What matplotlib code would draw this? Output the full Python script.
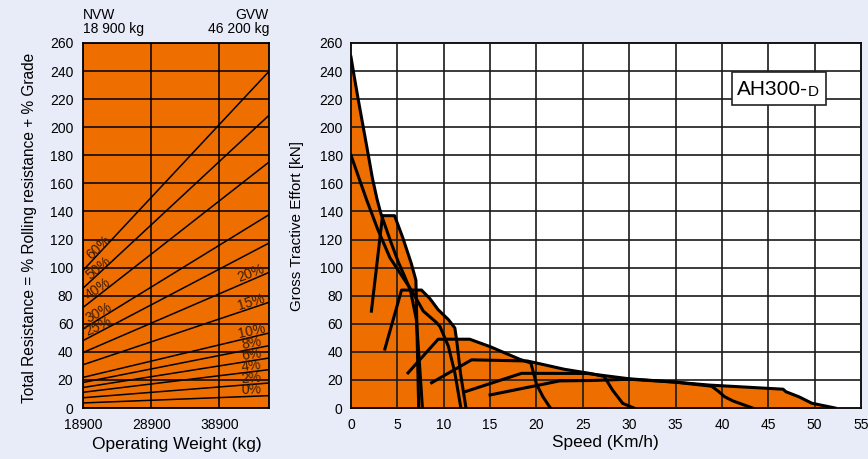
import matplotlib
matplotlib.use("Agg")
import matplotlib.pyplot as plt
from matplotlib.patches import Rectangle
import numpy as np

plt.rcParams["font.family"] = ["Liberation Sans", "DejaVu Sans"]

ORANGE = "#ee6e00"
BG = "#e8ecf8"

# --- left panel: total resistance lines (value at NVW, value at GVW) ---
weight_ends = [18900, 46200]
grade_labels = ["0%", "2%", "4%", "6%", "8%", "10%", "15%", "20%", "25%", "30%", "40%", "50%", "60%"]
resist_nvw = [3.6, 7.3, 11.2, 14.6, 18.2, 21.8, 30.8, 39.5, 48.0, 56.3, 71.6, 85.3, 98.0]
resist_gvw = [8.8, 17.8, 27.3, 35.6, 44.4, 53.4, 75.3, 96.6, 117.5, 137.7, 175.2, 208.5, 239.8]
# labels near the left end for steep grades, near the right end for the rest
label_at_left = ["25%", "30%", "40%", "50%", "60%"]

weight_ticks = [18900, 28900, 38900]
resist_ticks = list(range(0, 261, 20))

# --- right panel: rimpull curves (speed km/h, force kN) ---
speed_a = [0, 0.3, 0.8, 1.35, 1.9, 2.3, 2.8, 3.2, 4.2, 5.1, 5.7, 6.4, 7.05, 7.4, 7.7]
force_a = [250, 238, 219, 199, 179, 164, 149, 139, 120, 104, 95, 84, 63, 30, 0]

speed_b = [0, 0.9, 1.7, 2.9, 4.2, 5.6, 6.5, 7.8, 9.2, 9.6, 10.5, 11.2, 11.85]
force_b = [180, 163, 148, 127, 107, 93, 84, 69, 61, 58, 44, 25, 0]

speed_g1 = [2.2, 3.4, 4.7, 5.6, 6.5, 7.0, 7.1, 7.3]
force_g1 = [69, 137, 137, 121, 103, 91, 60, 0]

speed_g2 = [3.65, 5.45, 7.6, 8.5, 9.4, 10.5, 11.2, 11.4, 11.8, 12.4]
force_g2 = [42, 84, 84, 78, 70, 63, 57, 48, 25, 0]

speed_g3 = [6.15, 9.4, 12.8, 15.0, 18.2, 19.4, 20.0, 20.7, 21.5]
force_g3 = [25, 49, 49, 43.7, 34.7, 32, 17, 8, 0]

speed_g4 = [8.7, 13.0, 19.0, 20.5, 23.0, 25.7, 27.3, 28.2, 29.3, 30.5]
force_g4 = [18, 34.3, 33.5, 31.3, 27.6, 24.7, 22.5, 12.8, 3.3, 0]

speed_g5 = [12.3, 18.4, 25.5, 30.0, 35.0, 38.9, 39.6, 40.3, 41.2, 43.3]
force_g5 = [11.6, 24.7, 24.6, 20.8, 18.4, 15.5, 12, 8, 5, 0]

speed_g6 = [15.0, 22.5, 26.0, 30.0, 35.0, 38.7, 46.6, 46.9, 48.3, 49.7, 52.2]
force_g6 = [9.3, 19.3, 19.6, 20.5, 18.4, 16.3, 13.4, 11.6, 8.0, 3.4, 0]

curves = [
    (speed_a, force_a), (speed_b, force_b), (speed_g1, force_g1), (speed_g2, force_g2),
    (speed_g3, force_g3), (speed_g4, force_g4), (speed_g5, force_g5), (speed_g6, force_g6),
]

speed_ticks = list(range(0, 56, 5))
force_ticks = list(range(0, 261, 20))

W, H = 868, 459
fig = plt.figure(figsize=(W / 100, H / 100), dpi=100)
fig.patch.set_facecolor(BG)

# ---------------- left panel ----------------
ax1 = fig.add_axes([83 / W, 51 / H, 186 / W, 365 / H])
ax1.set_facecolor(ORANGE)
ax1.set_xlim(weight_ends)
ax1.set_ylim(0, 260)
ax1.set_xticks(weight_ticks)
ax1.set_yticks(resist_ticks)
ax1.grid(True, color="black", lw=1.1)
ax1.set_axisbelow(True)
ax1.tick_params(axis="both", length=0, labelsize=10)
ax1.tick_params(axis="y", pad=7)
ax1.tick_params(axis="x", pad=7.5)
for s in ax1.spines.values():
    s.set_color("black")
    s.set_linewidth(1.3)

for lab, r0, r1 in zip(grade_labels, resist_nvw, resist_gvw):
    ax1.plot(weight_ends, [r0, r1], color="black", lw=1.1, zorder=3)
    slope = (r1 - r0) / (weight_ends[1] - weight_ends[0])
    if lab in label_at_left:
        xl = 21150
    else:
        xl = 43600
    yl = r0 + slope * (xl - weight_ends[0]) + 4.5
    ang = np.degrees(np.arctan2(r1 - r0, weight_ends[1] - weight_ends[0])) * 0.88
    ax1.text(xl, yl, lab, fontsize=10, color="#3a1c06", ha="center", va="center",
             rotation=ang, transform_rotates_text=True, rotation_mode="anchor", zorder=4)

fig.text(83 / W, 1 - 15 / H, "NVW", fontsize=10, ha="left", va="center")
fig.text(83 / W, 1 - 29 / H, "18 900 kg", fontsize=10, ha="left", va="center")
fig.text(269 / W, 1 - 15 / H, "GVW", fontsize=10, ha="right", va="center")
fig.text(269 / W, 1 - 29 / H, "46 200 kg", fontsize=10, ha="right", va="center")

fig.text(30 / W, 1 - 228 / H, "Total Resistance = % Rolling resistance + % Grade",
         fontsize=11.2, rotation=90, ha="center", va="center")
fig.text(177 / W, 1 - 445 / H, "Operating Weight (kg)", fontsize=12.5, ha="center", va="center")

# ---------------- right panel ----------------
ax2 = fig.add_axes([351 / W, 51 / H, 510 / W, 365 / H])
ax2.set_facecolor("white")
ax2.set_xlim(0, 55)
ax2.set_ylim(0, 260)
ax2.set_xticks(speed_ticks)
ax2.set_yticks(force_ticks)
ax2.grid(True, color="#1a1a1a", lw=1.2)
ax2.set_axisbelow(False)
ax2.tick_params(axis="both", length=0, labelsize=10)
ax2.tick_params(axis="y", pad=6)
ax2.tick_params(axis="x", pad=7)
for s in ax2.spines.values():
    s.set_color("black")
    s.set_linewidth(1.3)

for sp, fc in curves:
    ax2.fill_between(sp, 0, fc, color=ORANGE, lw=0, zorder=1)
for sp, fc in curves:
    ax2.plot(sp, fc, color="black", lw=2.2, zorder=3, solid_joinstyle="round")

ax2.add_patch(Rectangle((41.1, 215.8), 10.1, 23.7, facecolor="white",
                        edgecolor="#222222", lw=1.2, zorder=4))
t1 = ax2.text(41.65, 219.8, "AH300-", fontsize=15, ha="left", va="bottom", zorder=5)
ax2.annotate("D", xy=(1, 0), xycoords=t1, xytext=(0, 0), textcoords="offset points",
             fontsize=11, ha="left", va="bottom", zorder=5)

fig.text(297 / W, 1 - 226 / H, "Gross Tractive Effort [kN]", fontsize=11,
         rotation=90, ha="center", va="center")
fig.text(605 / W, 1 - 443 / H, "Speed (Km/h)", fontsize=12.4, ha="center", va="center")

fig.savefig("out.png", dpi=100, facecolor=fig.get_facecolor())
